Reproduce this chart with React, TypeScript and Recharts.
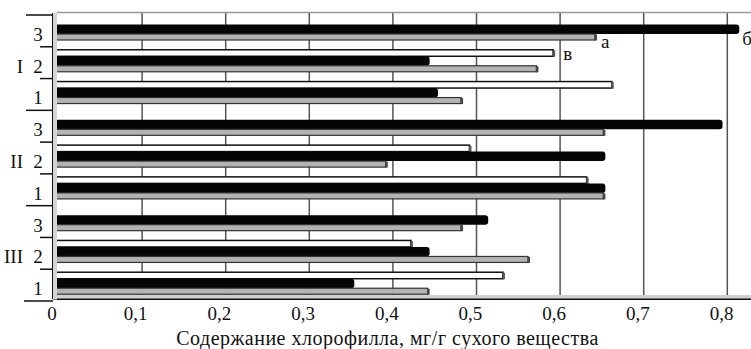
import React from 'react';
import { BarChart, Bar, XAxis, YAxis, CartesianGrid, LabelList } from 'recharts';

// categories top to bottom: group / sub-variant
const categories = ['I-3', 'I-2', 'I-1', 'II-3', 'II-2', 'II-1', 'III-3', 'III-2', 'III-1'];
const groupLabels = ['', 'I', '', '', 'II', '', '', 'III', ''];
const subLabels = ['3', '2', '1', '3', '2', '1', '3', '2', '1'];

// series values, mg/g dry weight
const seriesV = [null, 0.60, 0.67, null, 0.50, 0.64, null, 0.43, 0.54]; // white (в)
const seriesB = [0.82, 0.45, 0.46, 0.80, 0.66, 0.66, 0.52, 0.45, 0.36]; // black (б)
const seriesA = [0.65, 0.58, 0.49, 0.66, 0.40, 0.66, 0.49, 0.57, 0.45]; // gray (а)

// letter marks next to bars
const marksV = ['', 'в', '', '', '', '', '', '', ''];
const marksB = ['б', '', '', '', '', '', '', '', ''];
const marksA = ['а', '', '', '', '', '', '', '', ''];

const xTicks = [0, 0.1, 0.2, 0.3, 0.4, 0.5, 0.6, 0.7, 0.8];
const xTickLabels = ['0', '0,1', '0,2', '0,3', '0,4', '0,5', '0,6', '0,7', '0,8'];
const xTitle = 'Содержание хлорофилла, мг/г сухого вещества';

const data = categories.map((name, i) => ({
  name,
  v: seriesV[i],
  b: seriesB[i],
  a: seriesA[i],
  mv: marksV[i],
  mb: marksB[i],
  ma: marksA[i],
}));

const FONT = '"Liberation Serif", "Times New Roman", serif';
const W = 756;
const H = 349;
const TOP = 13;
const PLOT_H = 286;
const BAND = PLOT_H / categories.length;
const LEFT = 53;

const YTick = (props: any) => {
  const { y, payload } = props;
  const i = categories.indexOf(payload.value);
  const top = y - BAND / 2 + 2;
  const bottom = y + BAND / 2 + 2;
  const long = i % 3 === 0;
  const last = i === categories.length - 1;
  return (
    <g>
      {i === 0 && <line x1={57} x2={W} y1={top - 2.5} y2={top - 2.5} stroke="#999" strokeWidth={1.5} />}
      {i === 0 && <rect x={LEFT} y={top - 2.5} width={4} height={PLOT_H + 1} fill="#d6d6d6" />}
      {last && <rect x={LEFT + 2} y={bottom - 6} width={W} height={3.5} fill="#d0d0d0" />}
      <line x1={long ? 26 : 40} x2={LEFT} y1={top} y2={top} stroke="#111" strokeWidth={1.5} />
      {last && <line x1={24} x2={LEFT} y1={bottom} y2={bottom} stroke="#111" strokeWidth={1.5} />}
      <text x={38} y={y + 12} textAnchor="middle" fontSize={19} fontFamily={FONT} fill="#111">
        {subLabels[i]}
      </text>
      {groupLabels[i] && (
        <text x={23} y={y + 12} textAnchor="end" fontSize={19} fontFamily={FONT} fill="#111">
          {groupLabels[i]}
        </text>
      )}
    </g>
  );
};

const XTick = (props: any) => {
  const { x, y, payload } = props;
  const i = xTicks.indexOf(payload.value);
  return (
    <text x={x - 1} y={y + 13} textAnchor="middle" fontSize={19} fontFamily={FONT} fill="#111">
      {xTickLabels[i]}
    </text>
  );
};

const barShape = (kind: string) => (props: any) => {
  const { x, y, width, height } = props;
  if (!width || width <= 0) return null;
  if (kind === 'b') {
    return <rect x={x} y={y - 0.5} width={width} height={height + 1.5} rx={3} fill="#050505" />;
  }
  if (kind === 'v') {
    return (
      <g>
        <rect x={x} y={y + 1} width={width - 2} height={height - 1.5} fill="#fff" stroke="#111" strokeWidth={1.5} />
        <rect x={x + width - 2.5} y={y + 1.5} width={2.5} height={height - 1.5} fill="#555" />
      </g>
    );
  }
  return (
    <g>
      <rect x={x} y={y + 1} width={width - 2} height={height - 2} fill="#b3b3b3" stroke="#333" strokeWidth={1.2} />
      <rect x={x + width - 2.5} y={y + 1.5} width={2.5} height={height - 2} fill="#444" />
    </g>
  );
};

const markContent = (dx: number, dy: number) => (props: any) => {
  const { x, y, width, height, value } = props;
  if (!value) return null;
  return (
    <text x={x + width + dx} y={y + height / 2 + dy} fontSize={19} fontFamily={FONT} fill="#111">
      {value}
    </text>
  );
};

export default function App() {
  return (
    <div style={{ position: 'fixed', left: 0, top: 0, width: 751, height: H, overflow: 'hidden', background: '#fff' }}>
      <BarChart
        width={W}
        height={H}
        data={data}
        layout="vertical"
        margin={{ top: TOP, right: 0, bottom: H - TOP - PLOT_H - 30, left: 0 }}
        barSize={8}
        barGap={0}
      >
        <CartesianGrid
          horizontal={false}
          stroke="#555"
          strokeWidth={1.5}
          verticalCoordinatesGenerator={({ xAxis }: any) =>
            xTicks.slice(1).map((t) =>
              (typeof xAxis?.scale === 'function' ? xAxis.scale(t) : LEFT + t * 836) + 5.5
            )
          }
        />
        <XAxis
          type="number"
          domain={[0, 0.84]}
          ticks={xTicks}
          allowDataOverflow
          height={30}
          tickLine={false}
          axisLine={{ stroke: '#111', strokeWidth: 2 }}
          tick={<XTick />}
          interval={0}
        />
        <YAxis
          type="category"
          dataKey="name"
          width={LEFT}
          tickLine={false}
          axisLine={{ stroke: '#111', strokeWidth: 2 }}
          tick={<YTick />}
          interval={0}
        />
        <Bar dataKey="v" isAnimationActive={false} shape={barShape('v')}>
          <LabelList dataKey="mv" content={markContent(8, 7)} />
        </Bar>
        <Bar dataKey="b" isAnimationActive={false} shape={barShape('b')}>
          <LabelList dataKey="mb" content={markContent(3, 16)} />
        </Bar>
        <Bar dataKey="a" isAnimationActive={false} shape={barShape('a')}>
          <LabelList dataKey="ma" content={markContent(4, 11)} />
        </Bar>
      </BarChart>
      <svg width={751} height={H} style={{ position: 'absolute', left: 0, top: 0, pointerEvents: 'none' }}>
        <text x={387.5} y={345} textAnchor="middle" fontSize={20} letterSpacing={0.5} fontFamily={FONT} fill="#111">
          {xTitle}
        </text>
      </svg>
    </div>
  );
}
